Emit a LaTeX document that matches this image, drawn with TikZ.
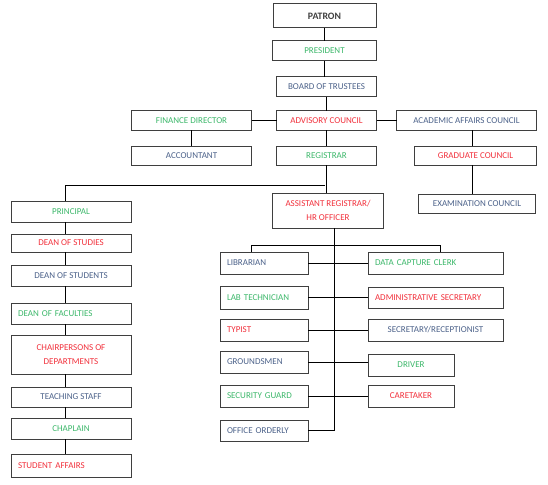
\documentclass[tikz,border=0pt]{standalone}
\usepackage{fontspec}
\setmainfont{Carlito}
\usepackage{tikz}
\usetikzlibrary{positioning,calc}
\definecolor{leaf}{HTML}{3DB86B}
\definecolor{flame}{HTML}{F2313C}
\definecolor{slate}{HTML}{4C628A}
\definecolor{frame}{HTML}{3F3F3F}
\definecolor{ink}{HTML}{404040}
\tikzset{
  postbox/.style={
    rectangle, draw=frame, fill=white, line width=1pt,
    text=#1, font=\fontsize{9}{13.5}\selectfont, align=center,
    inner sep=2pt, outer sep=0pt, minimum height=20pt
  },
  postbox/.default=slate,
  leftpost/.style={
    postbox=#1, align=left, inner xsep=7pt
  },
  leftpost/.default=slate,
  link/.style={draw=black, line width=0.8pt}
}
\begin{document}
\begin{tikzpicture}[x=1pt, y=1pt, node distance=14pt and 20pt]
\useasboundingbox (0,0) rectangle (548,-484);
% top of the tree
\node[postbox=ink, minimum width=103pt, minimum height=24pt, font=\fontsize{9.8}{11}\selectfont\bfseries] (patron) at (324.5,-16) {PATRON};
\node[postbox=leaf, minimum width=104pt, below=13pt of patron] (president) {PRESIDENT};
\node[postbox, minimum width=100pt, below=16pt of president, xshift=2pt] (board) {BOARD OF TRUSTEES};
\node[postbox=flame, minimum width=100pt, minimum height=19pt, below=14pt of board] (advisory) {ADVISORY COUNCIL};
\node[postbox=leaf, minimum width=120pt, minimum height=19pt, left=25pt of advisory] (finance) {FINANCE DIRECTOR};
\node[postbox, minimum width=140pt, minimum height=19pt, right=20pt of advisory] (academic) {ACADEMIC AFFAIRS COUNCIL};
\node[postbox, minimum width=120pt, minimum height=19pt, below=16pt of finance] (accountant) {ACCOUNTANT};
\node[postbox=leaf, minimum width=100pt, minimum height=19pt, below=16pt of advisory] (registrar) {REGISTRAR};
\node[postbox=flame, minimum width=122pt, minimum height=19pt, below=16pt of academic.south east, anchor=north east] (graduate) {GRADUATE COUNCIL};
\node[postbox, minimum width=117pt, minimum height=19pt, below=29pt of graduate, xshift=1.5pt] (exam) {EXAMINATION COUNCIL};
\node[postbox=flame, minimum width=111pt, minimum height=35pt, below=28pt of registrar, xshift=1.5pt] (assistant) {ASSISTANT REGISTRAR/\\HR OFFICER};
% left column
\node[postbox=leaf, minimum width=120pt, minimum height=21pt] (principal) at (71,-211.5) {PRINCIPAL};
\node[postbox=flame, minimum width=120pt, minimum height=18pt, below=12pt of principal] (studies) {DEAN OF STUDIES};
\node[postbox, minimum width=120pt, minimum height=21pt, below=13pt of studies] (students) {DEAN OF STUDENTS};
\node[leftpost=leaf, text width=106pt, minimum height=21pt, below=17pt of students] (faculties) {DEAN OF FACULTIES};
\node[postbox=flame, minimum width=120pt, minimum height=39pt, below=11pt of faculties] (chair) {CHAIRPERSONS OF\\DEPARTMENTS};
\node[postbox, minimum width=120pt, minimum height=20pt, below=13pt of chair] (teaching) {TEACHING STAFF};
\node[postbox=leaf, minimum width=120pt, minimum height=21pt, below=11pt of teaching] (chaplain) {CHAPLAIN};
\node[leftpost=flame, text width=106pt, minimum height=23pt, below=15pt of chaplain] (affairs) {STUDENT AFFAIRS};
% support staff
\node[leftpost, text width=74pt, minimum height=22pt] (librarian) at (264,-263) {LIBRARIAN};
\node[leftpost=leaf, text width=74pt, minimum height=23pt, below=12pt of librarian] (labtech) {LAB TECHNICIAN};
\node[leftpost=flame, text width=74pt, minimum height=22pt, below=10pt of labtech] (typist) {TYPIST};
\node[leftpost, text width=74pt, minimum height=22pt, below=10pt of typist] (groundsmen) {GROUNDSMEN};
\node[leftpost=leaf, text width=74pt, minimum height=22pt, below=12pt of groundsmen] (security) {SECURITY GUARD};
\node[leftpost, text width=74pt, minimum height=21pt, below=13pt of security] (orderly) {OFFICE ORDERLY};
\node[leftpost=leaf, text width=121pt, minimum height=22pt, right=60pt of librarian] (datacap) {DATA CAPTURE CLERK};
\node[leftpost=flame, text width=121pt, minimum height=21pt, right=60pt of labtech] (adminsec) {ADMINISTRATIVE SECRETARY};
\node[postbox, minimum width=135pt, minimum height=22pt, right=60pt of typist] (secrec) {SECRETARY/RECEPTIONIST};
\node[postbox=leaf, minimum width=86pt, minimum height=22pt, right=60pt of groundsmen, yshift=-3pt] (driver) {DRIVER};
\node[postbox=flame, minimum width=86pt, minimum height=22pt, right=60pt of security] (caretaker) {CARETAKER};
% helper points for the trunk lines
\coordinate (split) at (325,-185);
\coordinate (lcol) at (65,0);
\coordinate (spine) at (334,0);
\coordinate (lbr) at (251,-245);
\coordinate (rbr) at (440,-245);
% connectors
\draw[link] (patron.south) -- (president.north);
\draw[link] (president.south) -- (president.south |- board.north);
\draw[link] (board) -- (advisory);
\draw[link] (finance) -- (advisory);
\draw[link] (advisory) -- (academic);
\draw[link] (finance) -- (accountant);
\draw[link] (advisory) -- (registrar);
\draw[link] ($(graduate.north)+(-3pt,0)$) -- ($(graduate.north |- academic.south)+(-3pt,0)$);
\draw[link] ($(graduate.south)+(-3pt,0)$) -- ($(graduate.south |- exam.north)+(-3pt,0)$);
\draw[link] (registrar.south) -- (registrar.south |- assistant.north);
\draw[link] (split) -| (lcol |- principal.north);
\foreach \a/\b in {principal/studies, studies/students, students/faculties, faculties/chair,
                   chair/teaching, teaching/chaplain, chaplain/affairs}
  \draw[link] (lcol |- \a.south) -- (lcol |- \b.north);
\draw[link] (spine |- assistant.south) -- (spine |- orderly.east) -- (orderly.east);
\draw[link] (librarian.north -| lbr) -- (lbr) -- (rbr) -- (datacap.north -| rbr);
\foreach \a/\b in {librarian/datacap, labtech/adminsec, typist/secrec,
                   groundsmen/driver, security/caretaker}
  \draw[link] (\a.east) -- (\a.east -| \b.west);
\end{tikzpicture}
\end{document}
